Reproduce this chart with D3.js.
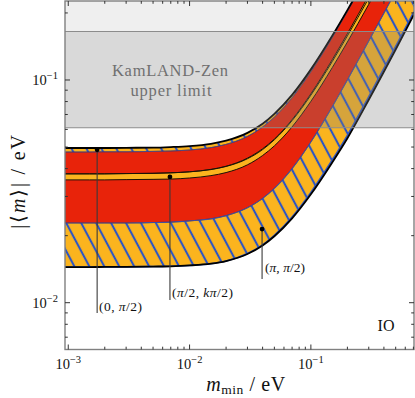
<!DOCTYPE html>
<html><head><meta charset="utf-8">
<script src="https://cdn.jsdelivr.net/npm/d3@7"></script>
<style>html,body{margin:0;padding:0;background:#fff;} svg{display:block;}</style>
</head><body>
<svg id="c" width="415" height="398"></svg>
<script>
// ---- data ----
const mGrid   = [0.00094,0.0015,0.002,0.003,0.005,0.007,0.01,0.015,0.02,0.03,0.04,0.05,0.07,0.1,0.15,0.2,0.3,0.5,0.708];
const outerTop   = [0.0495,0.0495,0.0495,0.0496,0.0497,0.0500,0.0505,0.0517,0.0534,0.0579,0.0636,0.0704,0.0857,0.1116,0.1580,0.2060,0.3041,0.5024,0.7097];
const redTop     = [0.0475,0.0475,0.0476,0.0476,0.0478,0.0480,0.0485,0.0497,0.0514,0.0558,0.0615,0.0681,0.0833,0.1089,0.1551,0.2031,0.3010,0.4974,0.7026];
const stripTop   = [0.0379,0.0379,0.0379,0.0380,0.0381,0.0383,0.0387,0.0397,0.0410,0.0446,0.0491,0.0543,0.0664,0.0867,0.1234,0.1615,0.2396,0.3969,0.5607];
const stripMid   = [0.0379,0.0379,0.0379,0.0380,0.0381,0.0383,0.0387,0.0396,0.0409,0.0443,0.0487,0.0539,0.0657,0.0855,0.1210,0.1578,0.2329,0.3849,0.5437];
const stripBot   = [0.0356,0.0356,0.0356,0.0357,0.0358,0.0359,0.0363,0.0372,0.0384,0.0416,0.0458,0.0506,0.0616,0.0802,0.1136,0.1481,0.2186,0.3613,0.5103];
const redBot     = [0.0228,0.0228,0.0228,0.0228,0.0229,0.0230,0.0233,0.0238,0.0246,0.0267,0.0294,0.0326,0.0400,0.0527,0.0758,0.1001,0.1496,0.2497,0.3542];
const hatchBot   = [0.01446,0.01446,0.01447,0.01448,0.01453,0.01457,0.01470,0.01497,0.01538,0.01663,0.01820,0.02008,0.02428,0.03129,0.04371,0.05644,0.0843,0.1415,0.2030];
const outerBot   = [0.01446,0.01446,0.01447,0.01448,0.01453,0.01457,0.01470,0.01497,0.01538,0.01655,0.01807,0.01988,0.02392,0.03068,0.04265,0.05480,0.0815,0.1370,0.1970];
const kamland    = [0.061, 0.165];
const xMajor = [1e-3, 1e-2, 1e-1];
const xMajorLabels = ["\u22123", "\u22122", "\u22121"];
const yMajor = [1e-2, 1e-1];
const yMajorLabels = ["\u22122", "\u22121"];
const markers = [
  {m:0.00173, v:0.0486, label:["(0, ", "\u03c0", "/2)"]},
  {m:0.00689, v:0.0367, label:["(", "\u03c0", "/2, ", "k\u03c0", "/2)"]},
  {m:0.0396,  v:0.0214, label:["(", "\u03c0", ", ", "\u03c0", "/2)"]}
];

// ---- layout ----
const W = 415, H = 398;
const ml = 65, mr = 1, mt = 1, mb = 48.5;
const pw = W - ml - mr, ph = H - mt - mb;
const svg = d3.select("#c");
const x = d3.scaleLog().domain([9.4e-4, 0.708]).range([ml, ml + pw]);
const y = d3.scaleLog().domain([0.006164, 0.2263]).range([mt + ph, mt]);
const serif = "'Liberation Serif','Times New Roman',serif";
const orange = "#fbb41e", red = "#e8230a", blue = "#2d55c4";

const defs = svg.append("defs");
defs.append("clipPath").attr("id","clip").append("rect")
  .attr("x", ml).attr("y", mt).attr("width", pw).attr("height", ph);
const pat = defs.append("pattern").attr("id","hatch").attr("patternUnits","userSpaceOnUse")
  .attr("width", 13.2).attr("height", 20).attr("patternTransform","rotate(-28)");
pat.append("line").attr("x1",6.6).attr("x2",6.6).attr("y1",-2).attr("y2",22)
  .attr("stroke", blue).attr("stroke-width", 2.1);

const g = svg.append("g").attr("clip-path","url(#clip)");

// light region above the upper limit
g.append("rect").attr("x", ml).attr("width", pw)
  .attr("y", mt).attr("height", y(kamland[1]) - mt).attr("fill", "#efefef");

const rows = mGrid.map((m,i)=>({m, U:outerTop[i], R1:redTop[i], S0:stripTop[i], S1:stripMid[i], S2:stripBot[i], R2:redBot[i], LB:hatchBot[i], L:outerBot[i]}));
const area = (a,b)=>d3.area().x(d=>x(d.m)).y0(d=>y(d[b])).y1(d=>y(d[a])).curve(d3.curveMonotoneX);
const line = (k)=>d3.line().x(d=>x(d.m)).y(d=>y(d[k])).curve(d3.curveMonotoneX);

g.append("path").datum(rows).attr("d", area("U","L")).attr("fill", orange);
g.append("path").datum(rows).attr("d", area("U","LB")).attr("fill", "url(#hatch)");
g.append("path").datum(rows).attr("d", area("R1","R2")).attr("fill", red)
  .attr("stroke", "#5a1808").attr("stroke-width", 0.7);
g.append("path").datum(rows).attr("d", line("R1")).attr("fill","none").attr("stroke", blue).attr("stroke-width", 0.8).attr("opacity",0.8);
g.append("path").datum(rows).attr("d", line("R2")).attr("fill","none").attr("stroke", blue).attr("stroke-width", 1.1).attr("opacity",0.8);
g.append("path").datum(rows).attr("d", line("LB")).attr("fill","none").attr("stroke", blue).attr("stroke-width", 1.6);
g.append("path").datum(rows).attr("d", area("S0","S2")).attr("fill", orange);
["S0","S1","S2"].forEach(k=>{
  g.append("path").datum(rows).attr("d", line(k)).attr("fill","none").attr("stroke","#1a1208").attr("stroke-width", 1.0);
});
g.append("path").datum(rows).attr("d", line("U")).attr("fill","none").attr("stroke","#000").attr("stroke-width", 1.8);
g.append("path").datum(rows).attr("d", line("L")).attr("fill","none").attr("stroke","#000").attr("stroke-width", 1.8);

// KamLAND-Zen band overlay
g.append("rect").attr("x", ml).attr("width", pw)
  .attr("y", y(kamland[1])).attr("height", y(kamland[0]) - y(kamland[1]))
  .attr("fill", "#808080").attr("fill-opacity", 0.3);
kamland.forEach(v=>{
  g.append("line").attr("x1", ml).attr("x2", ml+pw).attr("y1", y(v)).attr("y2", y(v))
    .attr("stroke", "#8c8c8c").attr("stroke-width", 1.1);
});
svg.append("text").attr("x", 170).attr("y", 76).attr("text-anchor","middle")
  .attr("font-family", serif).attr("font-size", 16.5).attr("fill", "#707070")
  .attr("textLength", 116).attr("lengthAdjust","spacing").text("KamLAND-Zen");
svg.append("text").attr("x", 171).attr("y", 96).attr("text-anchor","middle")
  .attr("font-family", serif).attr("font-size", 16.5).attr("fill", "#707070")
  .attr("textLength", 81).attr("lengthAdjust","spacing").text("upper limit");

// markers with leader lines
const lineEnds = [313, 300, 279];
const labelPos = [[99, 311], [172, 297], [265, 272]];
const labelLen = [43, 61, 40];
markers.forEach((d,i)=>{
  svg.append("line").attr("x1", x(d.m)).attr("x2", x(d.m)).attr("y1", y(d.v)).attr("y2", lineEnds[i])
    .attr("stroke", "#3a3a3a").attr("stroke-width", 1.1);
  svg.append("circle").attr("cx", x(d.m)).attr("cy", y(d.v)).attr("r", 2.4).attr("fill", "#000");
  const t = svg.append("text").attr("x", labelPos[i][0]).attr("y", labelPos[i][1])
    .attr("font-family", serif).attr("font-size", 13.5).attr("fill", "#111")
    .attr("textLength", labelLen[i]).attr("lengthAdjust","spacing");
  d.label.forEach(s=>{
    const ts = t.append("tspan").text(s);
    if (s.indexOf("\u03c0")>=0) ts.attr("font-style","italic");
  });
});

// axes frame
svg.append("rect").attr("x", ml).attr("y", mt).attr("width", pw).attr("height", ph)
  .attr("fill","none").attr("stroke","#808080").attr("stroke-width", 1.4);

const tickCol = "#333";
function minorTicks(domain){
  const out=[]; const lo=Math.floor(Math.log10(domain[0])), hi=Math.ceil(Math.log10(domain[1]));
  for(let e=lo;e<=hi;e++) for(let k=2;k<=9;k++){const v=k*Math.pow(10,e); if(v>=domain[0]&&v<=domain[1]) out.push(v);}
  return out;
}
const xMinor = minorTicks(x.domain()), yMinor = minorTicks(y.domain());
const tg = svg.append("g").attr("stroke", tickCol).attr("stroke-width", 1);
xMajor.forEach(v=>{
  tg.append("line").attr("x1",x(v)).attr("x2",x(v)).attr("y1",mt+ph).attr("y2",mt+ph-5);
  tg.append("line").attr("x1",x(v)).attr("x2",x(v)).attr("y1",mt).attr("y2",mt+5);
});
xMinor.forEach(v=>{
  tg.append("line").attr("x1",x(v)).attr("x2",x(v)).attr("y1",mt+ph).attr("y2",mt+ph-2.8);
  tg.append("line").attr("x1",x(v)).attr("x2",x(v)).attr("y1",mt).attr("y2",mt+2.8);
});
yMajor.forEach(v=>{
  tg.append("line").attr("x1",ml).attr("x2",ml+5).attr("y1",y(v)).attr("y2",y(v));
  tg.append("line").attr("x1",ml+pw).attr("x2",ml+pw-5).attr("y1",y(v)).attr("y2",y(v));
});
yMinor.forEach(v=>{
  tg.append("line").attr("x1",ml).attr("x2",ml+2.8).attr("y1",y(v)).attr("y2",y(v));
  tg.append("line").attr("x1",ml+pw).attr("x2",ml+pw-2.8).attr("y1",y(v)).attr("y2",y(v));
});

// tick labels
xMajor.forEach((v,i)=>{
  const t = svg.append("text").attr("x", x(v)).attr("y", mt+ph+19.5).attr("text-anchor","middle")
    .attr("font-family", serif).attr("font-size", 14.5).attr("fill","#111");
  t.append("tspan").text("10");
  t.append("tspan").attr("dy", -6).attr("font-size", 10.5).text(xMajorLabels[i]);
});
yMajor.forEach((v,i)=>{
  const t = svg.append("text").attr("x", 58).attr("y", y(v)+5).attr("text-anchor","end")
    .attr("font-family", serif).attr("font-size", 14.5).attr("fill","#111");
  t.append("tspan").text("10");
  t.append("tspan").attr("dy", -6).attr("font-size", 10.5).text(yMajorLabels[i]);
});

// axis titles
const xt = svg.append("text").attr("x", 246).attr("y", 391).attr("text-anchor","middle")
  .attr("font-family", serif).attr("font-size", 20).attr("letter-spacing", 0.6).attr("fill","#111");
xt.append("tspan").attr("font-style","italic").text("m");
xt.append("tspan").attr("dy", 3).attr("font-size", 13.5).text("min");
xt.append("tspan").attr("dy", -3).text(" / eV");

const yt = svg.append("text").attr("transform","translate(25,181) rotate(-90)").attr("text-anchor","middle")
  .attr("font-family", serif).attr("font-size", 20).attr("letter-spacing", 1.8).attr("fill","#111");
yt.append("tspan").text("|\u27e8");
yt.append("tspan").attr("font-style","italic").text("m");
yt.append("tspan").text("\u27e9| / eV");

svg.append("text").attr("x", 386).attr("y", 331).attr("text-anchor","middle")
  .attr("font-family", serif).attr("font-size", 16).attr("fill","#111").text("IO");
</script>
</body></html>
